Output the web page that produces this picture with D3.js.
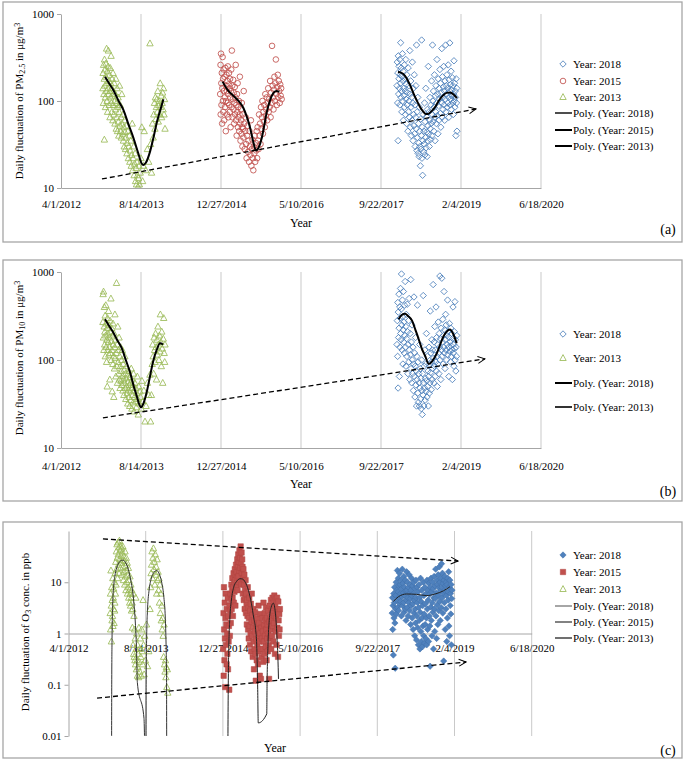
<!DOCTYPE html>
<html><head><meta charset="utf-8">
<script src="https://cdn.jsdelivr.net/npm/d3@7/dist/d3.min.js"></script>
<style>
body{margin:0;background:#fff;}
svg{display:block;}
svg text{font-family:"Liberation Serif","Times New Roman","DejaVu Serif",serif;}
</style></head><body>
<svg id="chart" width="685" height="762"></svg>
<script>
// ---------- axis ticks (days since 4/1/2012) ----------
const xTickValues = [0,500,1000,1500,2000,2500,3000];
const xTickLabels = ["4/1/2012","8/14/2013","12/27/2014","5/10/2016","9/22/2017","2/4/2019","6/18/2020"];
const pmTickValues = [10,100,1000];
const pmTickLabels = ["10","100","1000"];
const o3TickValues = [0.01,0.1,1,10];
const o3TickLabels = ["0.01","0.1","1","10"];

// ---------- (a) PM2.5 : [day, value] ----------
const pm25_2013 = [[262,140],[263,210],[265,95],[266,260],[268,120],[270,180],[271,36],[272,300],[274,150],[275,230],[277,110],[278,85],[280,190],[281,270],[283,130],[285,400],[286,160],[288,100],[290,220],[291,75],[293,140],[295,250],[296,380],[298,120],[300,170],[301,90],[303,200],[305,130],[306,65],[308,240],[310,110],[311,160],[313,330],[315,95],[317,140],[318,75],[320,180],[322,115],[324,60],[325,210],[327,90],[329,130],[331,70],[333,160],[335,100],[337,55],[339,120],[341,80],[343,180],[345,48],[347,95],[349,65],[351,140],[353,45],[355,85],[357,110],[359,58],[361,40],[363,75],[366,150],[368,52],[370,90],[372,45],[375,65],[377,38],[380,120],[382,55],[385,42],[387,70],[390,35],[393,50],[395,30],[398,60],[400,44],[403,28],[406,38],[409,52],[412,25],[415,33],[418,45],[421,22],[424,30],[427,40],[430,20],[433,27],[436,35],[439,18],[442,24],[445,55],[448,16],[451,22],[454,30],[457,14],[460,19],[463,25],[466,12],[469,17],[472,11],[475,20],[478,14],[481,10.3],[484,13],[487,18],[490,11],[495,15],[500,22],[505,50],[510,12],[515,18],[520,45],[530,16],[540,28],[548,20],[556,460],[560,32],[566,15],[572,55],[576,38],[580,70],[584,95],[587,48],[590,110],[593,62],[596,85],[599,105],[602,75],[605,130],[608,58],[611,90],[614,100],[617,70],[620,160],[623,85],[626,115],[629,65],[632,95],[635,125],[638,80],[641,140],[644,70],[647,105],[650,48]];
const pm25_2015 = [[995,120],[997,260],[998,70],[1000,350],[1002,160],[1003,90],[1005,210],[1007,55],[1008,140],[1010,320],[1012,100],[1013,180],[1015,75],[1017,230],[1018,130],[1020,60],[1022,190],[1024,110],[1025,85],[1027,240],[1029,150],[1030,45],[1032,100],[1034,200],[1036,130],[1037,70],[1039,170],[1041,95],[1043,250],[1044,120],[1046,65],[1048,155],[1050,210],[1051,90],[1053,140],[1055,75],[1057,180],[1058,110],[1060,50],[1062,130],[1064,230],[1066,85],[1068,380],[1070,150],[1072,65],[1074,105],[1076,175],[1078,80],[1080,125],[1082,55],[1084,95],[1086,145],[1088,70],[1090,110],[1092,260],[1094,60],[1096,90],[1098,40],[1100,120],[1102,75],[1104,160],[1106,50],[1108,85],[1110,65],[1112,100],[1114,45],[1116,70],[1118,190],[1120,55],[1122,35],[1124,80],[1126,60],[1128,42],[1130,95],[1132,50],[1134,30],[1136,70],[1138,48],[1140,38],[1142,130],[1145,55],[1148,28],[1151,45],[1154,65],[1157,32],[1160,22],[1163,40],[1166,52],[1169,26],[1172,35],[1175,20],[1178,45],[1181,30],[1184,24],[1187,60],[1190,18],[1193,28],[1196,36],[1199,22],[1202,16],[1205,30],[1208,25],[1211,40],[1214,20],[1217,33],[1220,27],[1223,45],[1226,22],[1229,50],[1232,35],[1235,28],[1238,70],[1241,40],[1244,55],[1247,32],[1250,85],[1253,48],[1256,65],[1259,100],[1262,42],[1265,75],[1268,58],[1271,90],[1274,50],[1277,120],[1280,68],[1283,80],[1286,110],[1289,60],[1292,95],[1295,140],[1298,75],[1301,105],[1304,85],[1307,170],[1310,65],[1313,125],[1316,95],[1319,430],[1322,150],[1325,110],[1328,80],[1331,135],[1334,190],[1337,100],[1340,160],[1343,300],[1346,120],[1349,90],[1352,145],[1355,200],[1358,110],[1361,170],[1364,130],[1367,95],[1370,155],[1373,115],[1376,140],[1379,105]];
const pm25_2018 = [[2100,150],[2102,280],[2104,95],[2105,210],[2107,35],[2108,330],[2110,120],[2112,180],[2113,250],[2115,140],[2117,300],[2118,90],[2120,200],[2122,160],[2123,468],[2125,110],[2127,240],[2128,130],[2130,75],[2132,190],[2134,350],[2135,100],[2137,170],[2139,220],[2140,60],[2142,140],[2144,115],[2146,260],[2147,85],[2149,180],[2151,130],[2153,70],[2155,300],[2156,105],[2158,155],[2160,55],[2162,200],[2164,90],[2166,125],[2168,45],[2170,240],[2172,75],[2174,150],[2176,100],[2178,65],[2180,380],[2182,120],[2184,50],[2186,170],[2188,85],[2190,40],[2192,110],[2194,60],[2196,280],[2198,95],[2200,35],[2202,140],[2204,70],[2206,52],[2208,200],[2210,42],[2212,90],[2214,30],[2216,65],[2218,150],[2220,48],[2222,440],[2224,27],[2226,75],[2228,38],[2230,110],[2232,25],[2234,55],[2236,33],[2238,23],[2240,85],[2242,45],[2244,30],[2246,18],[2248,62],[2250,28],[2252,40],[2254,502],[2256,22],[2258,50],[2260,14],[2262,35],[2264,70],[2266,26],[2268,45],[2270,32],[2272,95],[2274,24],[2276,58],[2278,38],[2280,140],[2282,29],[2284,66],[2286,44],[2288,23],[2290,80],[2292,35],[2294,52],[2296,250],[2298,42],[2300,75],[2302,30],[2304,60],[2306,110],[2308,48],[2310,36],[2312,90],[2314,55],[2316,170],[2318,40],[2320,70],[2322,440],[2324,100],[2326,58],[2328,130],[2330,45],[2332,85],[2334,200],[2336,65],[2338,35],[2340,115],[2342,75],[2344,150],[2346,55],[2348,95],[2350,300],[2352,68],[2354,120],[2356,42],[2358,180],[2360,88],[2362,60],[2364,140],[2366,105],[2368,230],[2370,72],[2372,160],[2374,50],[2376,125],[2378,95],[2380,400],[2382,65],[2384,190],[2386,110],[2388,80],[2390,145],[2392,250],[2394,90],[2396,130],[2398,60],[2400,170],[2402,105],[2404,440],[2406,75],[2408,150],[2410,120],[2412,200],[2414,85],[2416,140],[2418,95],[2420,260],[2422,110],[2424,65],[2426,175],[2428,130],[2430,465],[2432,90],[2434,155],[2436,105],[2438,220],[2440,80],[2442,135],[2444,115],[2446,185],[2448,95],[2450,150],[2452,70],[2454,120],[2456,290],[2458,100],[2460,160],[2462,85],[2464,130],[2466,110],[2468,40],[2470,180],[2472,95],[2474,140],[2475,45]];
const pm25Poly2013 = [[275,190],[300,160],[327,134],[360,100],[390,79],[420,55],[452,38],[483,25],[505,19],[515,18.4],[530,19.5],[556,26],[578,38],[598,56],[620,78],[640,105]];
const pm25Poly2015 = [[1010,167],[1040,135],[1077,115],[1110,100],[1140,83],[1160,67],[1181,50],[1200,35],[1219,27],[1235,29],[1254,37],[1270,52],[1285,73],[1305,100],[1327,123],[1345,130],[1365,128]];
const pm25Poly2018 = [[2106,215],[2125,212],[2150,195],[2181,153],[2205,120],[2225,100],[2245,85],[2263,76],[2280,71],[2294,71],[2315,76],[2338,85],[2360,100],[2388,116],[2410,124],[2431,125],[2455,118],[2475,108]];
const pm25Trend = [[256,12.7],[2594,81]];

// ---------- (b) PM10 ----------
const pm10_2013 = [[262,270],[263,560],[265,180],[266,600],[268,130],[270,240],[271,400],[273,150],[274,210],[276,320],[277,110],[279,190],[280,420],[282,140],[283,260],[285,95],[286,170],[288,230],[289,50],[291,300],[292,130],[294,200],[296,160],[297,360],[299,115],[300,250],[302,180],[304,140],[305,60],[307,280],[309,120],[310,210],[312,500],[314,100],[315,165],[317,230],[319,130],[320,44],[322,190],[324,90],[325,260],[327,150],[329,110],[330,38],[332,200],[334,80],[336,140],[337,330],[339,105],[341,170],[343,65],[345,120],[347,750],[349,85],[351,150],[353,55],[355,240],[357,95],[359,130],[361,70],[363,180],[365,60],[367,110],[369,48],[371,85],[373,140],[375,58],[377,75],[379,100],[381,52],[383,130],[385,66],[387,45],[389,90],[391,60],[393,40],[395,78],[397,55],[399,110],[401,48],[403,70],[405,36],[407,62],[409,85],[411,50],[413,42],[415,68],[417,32],[419,57],[421,46],[423,75],[425,38],[427,52],[429,30],[431,64],[433,44],[435,55],[437,35],[439,80],[441,48],[443,28],[445,60],[447,40],[449,52],[451,33],[453,70],[455,45],[457,26],[459,38],[462,55],[465,34],[468,48],[471,29],[474,42],[477,65],[480,36],[483,24],[486,50],[490,32],[494,44],[498,38],[502,28],[506,58],[512,34],[518,45],[525,20],[532,30],[540,55],[548,40],[556,68],[560,20],[565,40],[570,90],[573,150],[576,110],[579,70],[582,180],[585,130],[588,95],[591,200],[594,140],[597,60],[600,170],[603,115],[606,240],[609,150],[612,100],[615,190],[618,125],[621,330],[624,160],[627,85],[630,210],[633,135],[636,55],[639,175],[642,300],[645,120],[648,95],[650,150]];
const pm10_2018 = [[2100,150],[2102,280],[2104,110],[2105,450],[2107,48],[2108,350],[2110,180],[2112,560],[2113,230],[2115,65],[2117,400],[2118,140],[2120,300],[2122,650],[2123,200],[2125,170],[2127,380],[2128,950],[2130,250],[2132,130],[2134,480],[2135,310],[2137,90],[2139,220],[2140,600],[2142,160],[2144,270],[2146,120],[2147,420],[2149,190],[2151,780],[2153,140],[2155,240],[2156,85],[2158,330],[2160,175],[2162,110],[2164,430],[2166,210],[2168,70],[2170,150],[2172,280],[2174,95],[2176,500],[2178,130],[2180,60],[2182,200],[2184,115],[2186,820],[2188,80],[2190,160],[2192,55],[2194,250],[2196,100],[2198,70],[2200,140],[2202,45],[2204,90],[2206,520],[2208,65],[2210,120],[2212,38],[2214,85],[2216,180],[2218,52],[2220,75],[2222,30],[2224,110],[2226,60],[2228,420],[2230,42],[2232,95],[2234,33],[2236,70],[2238,55],[2240,30],[2242,150],[2244,48],[2246,80],[2248,36],[2250,62],[2252,28],[2254,100],[2256,45],[2258,24],[2260,70],[2262,40],[2264,540],[2266,55],[2268,30],[2270,85],[2272,48],[2274,130],[2276,35],[2278,62],[2280,90],[2282,44],[2284,200],[2286,58],[2288,38],[2290,110],[2292,50],[2294,75],[2296,30],[2298,65],[2300,140],[2302,42],[2304,90],[2306,55],[2308,360],[2310,72],[2312,120],[2314,46],[2316,95],[2318,170],[2320,60],[2322,130],[2324,80],[2326,720],[2328,105],[2330,55],[2332,160],[2334,85],[2336,240],[2338,65],[2340,130],[2342,95],[2344,400],[2346,75],[2348,180],[2350,110],[2352,50],[2354,150],[2356,90],[2358,270],[2360,120],[2362,70],[2364,200],[2366,140],[2368,900],[2370,100],[2372,175],[2374,60],[2376,230],[2378,130],[2380,850],[2382,110],[2384,160],[2386,290],[2388,90],[2390,190],[2392,140],[2394,600],[2396,120],[2398,220],[2400,80],[2402,170],[2404,330],[2406,130],[2408,250],[2410,100],[2412,190],[2414,150],[2416,480],[2418,115],[2420,210],[2422,140],[2424,65],[2426,180],[2428,260],[2430,125],[2432,160],[2434,95],[2436,230],[2438,145],[2440,110],[2442,200],[2444,130],[2446,60],[2448,175],[2450,400],[2452,120],[2454,150],[2456,85],[2458,210],[2460,135],[2462,460],[2464,100],[2466,170],[2468,75],[2470,140],[2472,110],[2474,190]];
const pm10Poly2013 = [[275,290],[300,245],[325,208],[350,170],[381,135],[405,100],[431,73],[455,50],[475,38],[490,31],[500,29],[515,32],[538,45],[556,65],[575,95],[598,130],[619,155],[638,150]];
const pm10Poly2018 = [[2110,290],[2130,325],[2150,335],[2170,315],[2194,280],[2215,220],[2233,178],[2255,135],[2275,112],[2299,90],[2320,97],[2348,118],[2370,150],[2390,185],[2410,210],[2431,222],[2450,200],[2473,155]];
const pm10Trend = [[262,22],[2650,103]];

// ---------- (c) O3 ----------
const o3_2013 = [[270,2.5],[272,6],[273,1.2],[275,17],[277,3.5],[278,0.7],[280,8],[282,1.8],[283,4.5],[285,2.2],[287,12],[288,1.4],[290,5],[292,3],[293,7.5],[295,1.6],[297,10],[299,2.8],[300,4],[302,15],[304,6],[306,25],[308,9],[310,40],[312,18],[314,55],[316,30],[318,12],[320,60],[322,35],[324,22],[326,48],[328,15],[330,65],[332,28],[334,42],[336,19],[338,52],[340,33],[342,24],[344,45],[346,14],[348,38],[350,27],[352,50],[354,20],[356,11],[358,32],[360,16],[362,26],[364,9],[366,40],[368,13],[370,21],[372,7],[374,30],[376,17],[378,10],[380,24],[382,6],[384,14],[386,8],[388,19],[390,5],[392,11],[394,7],[396,4],[398,13],[400,6],[402,3.5],[404,9],[406,5],[408,2.8],[410,7],[412,4],[414,1.3],[416,3],[418,0.6],[420,6],[422,0.4],[424,2.2],[426,0.35],[428,1.2],[430,0.3],[432,0.8],[434,0.25],[436,5],[438,0.5],[440,0.2],[442,1],[444,0.3],[446,0.15],[448,0.6],[450,0.22],[452,0.4],[454,0.14],[456,1.3],[458,0.28],[460,0.5],[462,0.18],[465,0.8],[468,0.35],[471,0.15],[474,1.2],[477,0.45],[480,0.25],[483,4.5],[486,0.6],[490,0.16],[494,0.9],[498,0.3],[505,1.5],[512,0.23],[520,0.45],[528,3],[532,8],[535,15],[538,22],[541,40],[544,12],[547,30],[550,46],[553,18],[556,25],[559,9],[562,35],[565,14],[568,20],[571,6],[574,28],[577,11],[580,16],[583,7],[586,12],[589,4],[592,9],[595,2.5],[598,6],[601,1.8],[604,3.5],[607,1.2],[610,2],[613,0.9],[616,0.35],[619,1.5],[622,0.25],[625,0.18],[628,0.3],[631,0.14],[634,0.22],[637,0.09],[640,0.2],[643,0.07]];
const o3_2015 = [[1002,0.5],[1004,2.5],[1005,0.15],[1007,8],[1008,1.2],[1010,0.3],[1012,4],[1013,0.8],[1015,0.09],[1017,2],[1018,6],[1020,0.6],[1022,1.5],[1024,0.25],[1025,3],[1027,1],[1029,0.4],[1031,5],[1033,0.2],[1035,2.2],[1037,0.7],[1039,1.4],[1041,0.08],[1043,3.5],[1045,0.9],[1047,2.8],[1049,6],[1051,1.6],[1053,4.5],[1055,9],[1057,3],[1059,7],[1061,12],[1063,5],[1065,2.2],[1067,8],[1069,15],[1071,4],[1073,10],[1075,6.5],[1077,18],[1079,11],[1081,3.5],[1083,14],[1085,22],[1087,8],[1089,16],[1091,12],[1093,28],[1095,7],[1097,20],[1099,35],[1101,13],[1103,25],[1105,17],[1107,42],[1109,10],[1111,30],[1113,19],[1115,50],[1117,24],[1119,9],[1121,38],[1123,15],[1125,28],[1127,20],[1129,6],[1131,12],[1133,18],[1135,4.5],[1137,9],[1139,14],[1141,3],[1143,7],[1145,5],[1147,11],[1149,2.5],[1151,6],[1153,3.8],[1155,1.5],[1157,4.5],[1159,2.2],[1161,8],[1163,1.2],[1165,3.2],[1167,0.8],[1169,2],[1171,5],[1173,1.4],[1175,0.6],[1177,2.8],[1179,1],[1181,3.8],[1183,0.45],[1185,1.7],[1187,6],[1189,0.9],[1191,2.3],[1193,0.35],[1195,1.3],[1197,3],[1199,0.7],[1201,0.2],[1203,1.8],[1205,0.5],[1207,1.1],[1209,2.6],[1211,0.4],[1213,0.12],[1215,1.5],[1217,0.8],[1219,0.3],[1221,2],[1223,0.6],[1225,1.2],[1227,0.25],[1229,0.9],[1231,3.5],[1233,0.45],[1235,1.6],[1237,0.7],[1239,0.15],[1241,1],[1243,2.4],[1245,0.5],[1247,0.13],[1249,1.3],[1251,0.35],[1253,0.8],[1255,2],[1257,0.5],[1259,1.1],[1261,0.28],[1263,4],[1265,0.7],[1267,1.5],[1269,0.4],[1271,2.5],[1273,0.9],[1275,1.8],[1277,0.55],[1279,3.2],[1281,1.2],[1283,0.3],[1285,2],[1287,0.8],[1289,1.5],[1291,0.45],[1293,2.8],[1295,1],[1297,0.6],[1299,0.13],[1301,1.7],[1303,3.5],[1305,0.8],[1307,2.2],[1309,1.2],[1311,4.5],[1313,0.5],[1315,1.8],[1317,3],[1319,0.9],[1321,5],[1323,1.4],[1325,2.5],[1327,0.7],[1329,4],[1331,1.6],[1333,5.5],[1335,2.2],[1337,0.4],[1339,3.5],[1341,1.1],[1343,4.8],[1345,2],[1347,0.6],[1349,3],[1351,5],[1353,1.3],[1355,2.6],[1357,0.35],[1359,4.2],[1361,1.8],[1363,0.9],[1365,2.4],[1367,1.2],[1369,3]];
const o3_2018 = [[2096,2.5],[2098,5],[2100,1.2],[2102,3.5],[2104,0.38],[2106,6],[2108,2],[2110,4],[2112,8],[2114,1.6],[2116,0.21],[2118,3],[2120,5.5],[2122,10],[2124,2.4],[2126,7],[2128,4.5],[2130,17],[2132,3.2],[2134,6.5],[2136,12],[2138,2.8],[2140,8.5],[2142,5],[2144,15],[2146,3.8],[2148,9],[2150,6],[2152,4.2],[2154,11],[2156,2.2],[2158,7.5],[2160,5.2],[2162,18],[2164,3.5],[2166,9.5],[2168,6.2],[2170,4],[2172,13],[2174,2.6],[2176,8],[2178,5.5],[2180,3],[2182,11],[2184,6.8],[2186,1.8],[2188,4.5],[2190,16],[2192,7],[2194,3.2],[2196,10],[2198,5],[2200,2.2],[2202,8],[2204,4],[2206,14],[2208,6],[2210,2.8],[2212,9],[2214,4.8],[2216,1.5],[2218,7],[2220,3.5],[2222,12],[2224,5.5],[2226,2],[2228,8.5],[2230,3.8],[2232,1.2],[2234,6],[2236,10],[2238,2.5],[2240,4.5],[2242,0.9],[2244,7.5],[2246,3],[2248,1.6],[2250,11],[2252,5],[2254,0.75],[2256,2.2],[2258,8],[2260,4],[2262,1.3],[2264,6.5],[2266,0.6],[2268,3.2],[2270,9],[2272,1.8],[2274,5],[2276,0.5],[2278,2.6],[2280,12],[2282,1.1],[2284,4.2],[2286,0.7],[2288,7],[2290,2],[2292,0.55],[2294,3.5],[2296,1.4],[2298,10],[2300,0.9],[2302,5.5],[2304,2.4],[2306,0.65],[2308,8],[2310,1.5],[2312,3.8],[2314,0.8],[2316,6],[2318,2],[2320,0.6],[2322,11],[2324,3],[2326,1.2],[2328,7],[2330,4.5],[2332,0.7],[2334,9.5],[2336,2.2],[2338,5.8],[2340,1.4],[2342,0.23],[2344,8],[2346,3.3],[2348,12],[2350,1.8],[2352,6.5],[2354,0.9],[2356,4],[2358,10],[2360,2.6],[2362,7.5],[2364,0.5],[2366,5],[2368,13],[2370,3],[2372,1.1],[2374,8.5],[2376,4.8],[2378,18],[2380,2.2],[2382,6.2],[2384,0.8],[2386,11],[2388,3.6],[2390,9],[2392,1.5],[2394,14],[2396,5.5],[2398,2.8],[2400,7.8],[2402,20],[2404,4.2],[2406,10],[2408,1.8],[2410,6.8],[2412,12],[2414,3.2],[2416,23],[2418,8],[2420,5],[2422,15],[2424,2.5],[2426,9.5],[2428,6],[2430,0.29],[2432,11],[2434,4],[2436,7],[2438,13],[2440,1.2],[2442,8.5],[2444,3],[2446,10],[2448,5.5],[2450,0.7],[2452,9],[2454,2],[2456,12],[2458,6.5],[2460,4.5],[2462,16],[2464,1.4],[2466,8],[2468,0.9],[2470,11],[2472,3.5],[2474,6],[2476,2.4],[2478,9],[2480,0.6],[2482,4.8],[2484,7]];
const o3Poly2013 = [[279,0.004],[280,0.1],[282,0.8],[286,3.5],[292,8],[300,13],[312,19],[330,25],[351,27],[370,24],[387,18],[403,11],[416,6.5],[425,3.5],[433,1.6],[440,0.55],[446,0.11],[489,0.022],[496,0.004],[502,0.004],[503,0.1],[506,0.8],[512,3],[522,7],[535,11.5],[550,15],[571,17],[590,14],[605,9.5],[618,5],[627,2],[632,0.6],[635,0.15],[636,0.004]];
const o3Poly2015 = [[1032,0.004],[1034,0.05],[1038,0.5],[1045,2],[1055,4.5],[1070,8],[1090,10.5],[1110,11.7],[1125,11.6],[1145,10],[1165,7],[1185,3.8],[1200,2],[1212,1.2],[1219,0.6],[1225,0.1],[1229,0.018],[1284,0.027],[1286,0.1],[1292,0.6],[1300,1.8],[1312,3.2],[1327,3.9],[1340,2.5],[1350,0.9],[1356,0.35],[1360,0.13]];
const o3Poly2018 = [[2104,4.2],[2136,5.2],[2190,5.9],[2255,5.8],[2320,5.5],[2374,5.9],[2428,6.8],[2471,8.2]];
const o3TrendTop = [[223,70],[2523,26]];
const o3TrendBottom = [[185,0.055],[2575,0.278]];

// ---------- legends ----------
const legendA = ["Year: 2018","Year: 2015","Year: 2013","Poly. (Year: 2018)","Poly. (Year: 2015)","Poly. (Year: 2013)"];
const legendB = ["Year: 2018","Year: 2013","Poly. (Year: 2018)","Poly. (Year: 2013)"];
const legendC = ["Year: 2018","Year: 2015","Year: 2013","Poly. (Year: 2018)","Poly. (Year: 2015)","Poly. (Year: 2013)"];

// ---------- drawing ----------
const FONT = "'Liberation Serif','Times New Roman','DejaVu Serif',serif";
const BLUE="#4a7ebb", RED="#c0504d", GREEN="#9bbb59";
const svg = d3.select("#chart");
const defs = svg.append("defs");
defs.append("marker").attr("id","arrow").attr("viewBox","0 0 10 10").attr("refX",9).attr("refY",5)
  .attr("markerWidth",9).attr("markerHeight",9).attr("markerUnits","userSpaceOnUse").attr("orient","auto")
  .append("path").attr("d","M1,1.2L9,5L1,8.8").attr("fill","none").attr("stroke","#000").attr("stroke-width",1.1);

const shapes = {
  diamond: "M0,-3.2L3.2,0L0,3.2L-3.2,0Z",
  triangle: "M0,-3.4L3.2,2.5L-3.2,2.5Z",
  square: "M-2.7,-2.7H2.7V2.7H-2.7Z",
  dfill: "M0,-3.2L3.2,0L0,3.2L-3.2,0Z"
};
function drawMarker(sel, kind){
  if(kind==="circle") return sel.append("circle").attr("r",2.8).attr("fill","none").attr("stroke",RED).attr("stroke-width",0.85);
  if(kind==="diamond") return sel.append("path").attr("d",shapes.diamond).attr("fill","none").attr("stroke",BLUE).attr("stroke-width",0.85);
  if(kind==="triangle") return sel.append("path").attr("d",shapes.triangle).attr("fill","none").attr("stroke",GREEN).attr("stroke-width",0.85);
  if(kind==="square") return sel.append("path").attr("d",shapes.square).attr("fill",RED).attr("stroke","#b04440").attr("stroke-width",0.5);
  if(kind==="dfill") return sel.append("path").attr("d",shapes.dfill).attr("fill","#4f81bd").attr("stroke","#3f6fa8").attr("stroke-width",0.5);
}
function txt(sel){ return sel.append("text").attr("font-family",FONT).attr("fill","#000"); }

function panel(cfg, idx){
  const g = svg.append("g");
  g.append("rect").attr("x",cfg.box[0]).attr("y",cfg.box[1]).attr("width",cfg.box[2]).attr("height",cfg.box[3])
    .attr("fill","#fff").attr("stroke","#a6a6a6").attr("stroke-width",1.3);
  const x = d3.scaleLinear().domain([0,3000]).range([cfg.left,cfg.right]);
  const y = d3.scaleLog().domain(cfg.yDomain).range([cfg.bottom,cfg.top]);
  g.selectAll(".vg").data(xTickValues.slice(1)).join("line")
    .attr("x1",d=>x(d)).attr("x2",d=>x(d)).attr("y1",cfg.top).attr("y2",cfg.bottom)
    .attr("stroke","#c9c9c9").attr("stroke-width",1);
  const ya = g.append("g").attr("transform",`translate(${cfg.left},0)`)
    .call(d3.axisLeft(y).tickValues(cfg.yTicks).tickFormat((d,i)=>cfg.yLabels[i]).tickSize(4).tickSizeOuter(0).tickPadding(3));
  ya.attr("font-family",FONT).attr("font-size",null);
  ya.select(".domain").attr("stroke","#a6a6a6");
  ya.selectAll(".tick line").attr("stroke","#a6a6a6");
  ya.selectAll("text").attr("font-size","11px").attr("fill","#000").attr("font-family",FONT);
  const xa = g.append("g").attr("transform",`translate(0,${y(cfg.xAxisAt)})`)
    .call(d3.axisBottom(x).tickValues(xTickValues).tickFormat((d,i)=>xTickLabels[i]).tickSize(0).tickPadding(cfg.xPad));
  xa.attr("font-family",FONT).attr("font-size",null);
  xa.select(".domain").attr("stroke","#a6a6a6");
  xa.selectAll("text").attr("font-size","11px").attr("fill","#000").attr("font-family",FONT);
  const cid = "clip"+idx;
  defs.append("clipPath").attr("id",cid).append("rect")
    .attr("x",cfg.left-4).attr("y",cfg.top-4).attr("width",cfg.right-cfg.left+8).attr("height",cfg.bottom-cfg.top+4);
  const plot = g.append("g").attr("clip-path",`url(#${cid})`);
  cfg.series.forEach(s=>{
    const pts = plot.append("g").selectAll("g").data(s.data).join("g")
      .attr("transform",d=>`translate(${x(d[0])},${y(d[1])})`);
    pts.each(function(){ drawMarker(d3.select(this), s.kind); });
  });
  const line = d3.line().x(d=>x(d[0])).y(d=>y(d[1])).curve(d3.curveMonotoneX);
  cfg.curves.forEach(c=>{
    plot.append("path").datum(c.data).attr("d",line).attr("fill","none")
      .attr("stroke",c.color).attr("stroke-width",c.width);
  });
  const tl = d3.line().x(d=>x(d[0])).y(d=>y(d[1]));
  cfg.trends.forEach(t=>{
    g.append("path").datum(t).attr("d",tl).attr("fill","none").attr("stroke","#000")
      .attr("stroke-width",1.3).attr("stroke-dasharray","5,3").attr("marker-end","url(#arrow)");
  });
  txt(g).attr("x",cfg.yearX).attr("y",cfg.yearY).attr("text-anchor","middle").attr("font-size","12px").text("Year");
  const yt = txt(g).attr("transform",`translate(${cfg.yTitleX},${cfg.yTitleY}) rotate(-90)`)
    .attr("text-anchor","middle").attr("font-size","11px");
  cfg.yTitle.forEach(p=>{
    const ts = yt.append("tspan").text(p.t);
    if(p.sub){ ts.attr("baseline-shift","-25%").attr("font-size","8px"); }
    if(p.sup){ ts.attr("baseline-shift","35%").attr("font-size","8px"); }
  });
  txt(g).attr("x",cfg.letterX).attr("y",cfg.letterY).attr("text-anchor","middle").attr("font-size","14px").text(cfg.letter);
  cfg.legend.forEach((it,i)=>{
    const ly = cfg.legendY[i];
    const lg = g.append("g");
    if(it.kind==="line"){
      lg.append("line").attr("x1",555).attr("x2",572).attr("y1",ly).attr("y2",ly).attr("stroke",it.color).attr("stroke-width",it.width);
    } else {
      const m = lg.append("g").attr("transform",`translate(563,${ly})`);
      drawMarker(m, it.kind);
    }
    txt(lg).attr("x",573).attr("y",ly+3.8).attr("font-size","11px").text(it.label);
  });
}

panel({
  box:[3,2,679,240], left:61, right:541, top:14, bottom:188, yDomain:[10,1000],
  yTicks:pmTickValues, yLabels:pmTickLabels, xAxisAt:10, xPad:12,
  series:[{data:pm25_2013,kind:"triangle"},{data:pm25_2015,kind:"circle"},{data:pm25_2018,kind:"diamond"}],
  curves:[{data:pm25Poly2013,color:"#000",width:2},{data:pm25Poly2015,color:"#000",width:2},{data:pm25Poly2018,color:"#000",width:2}],
  trends:[pm25Trend],
  yearX:301, yearY:227, yTitleX:23, yTitleY:101,
  yTitle:[{t:"Daily fluctuation of PM"},{t:"2.5",sub:true},{t:" in μg/m"},{t:"3",sup:true}],
  letter:"(a)", letterX:668, letterY:234,
  legend:[{kind:"diamond",label:legendA[0]},{kind:"circle",label:legendA[1]},{kind:"triangle",label:legendA[2]},
    {kind:"line",color:"#4d4d4d",width:2,label:legendA[3]},{kind:"line",color:"#000",width:2,label:legendA[4]},{kind:"line",color:"#000",width:2,label:legendA[5]}],
  legendY:[64,81,97,113,130,146]
},0);

panel({
  box:[3,260,679,241], left:61, right:541, top:272, bottom:448, yDomain:[10,1000],
  yTicks:pmTickValues, yLabels:pmTickLabels, xAxisAt:10, xPad:14,
  series:[{data:pm10_2013,kind:"triangle"},{data:pm10_2018,kind:"diamond"}],
  curves:[{data:pm10Poly2013,color:"#000",width:2},{data:pm10Poly2018,color:"#000",width:2}],
  trends:[pm10Trend],
  yearX:301, yearY:488, yTitleX:23, yTitleY:358,
  yTitle:[{t:"Daily fluctuation of PM"},{t:"10",sub:true},{t:" in μg/m"},{t:"3",sup:true}],
  letter:"(b)", letterX:668, letterY:496,
  legend:[{kind:"diamond",label:legendB[0]},{kind:"triangle",label:legendB[1]},
    {kind:"line",color:"#000",width:2,label:legendB[2]},{kind:"line",color:"#333",width:2,label:legendB[3]}],
  legendY:[334,358,383,407]
},1);

panel({
  box:[3,522,679,236], left:68.5, right:531.7, top:531, bottom:736, yDomain:[0.01,100],
  yTicks:o3TickValues, yLabels:o3TickLabels, xAxisAt:1, xPad:10.5,
  series:[{data:o3_2013,kind:"triangle"},{data:o3_2015,kind:"square"},{data:o3_2018,kind:"dfill"}],
  curves:[{data:o3Poly2013,color:"#333",width:1},{data:o3Poly2015,color:"#222",width:1},{data:o3Poly2018,color:"#222",width:1}],
  trends:[o3TrendTop,o3TrendBottom],
  yearX:275, yearY:752, yTitleX:29, yTitleY:632,
  yTitle:[{t:"Daily fluctuation of O"},{t:"3",sub:true},{t:" conc. in ppb"}],
  letter:"(c)", letterX:668, letterY:755,
  legend:[{kind:"dfill",label:legendC[0]},{kind:"square",label:legendC[1]},{kind:"triangle",label:legendC[2]},
    {kind:"line",color:"#a6a6a6",width:2,label:legendC[3]},{kind:"line",color:"#595959",width:1.5,label:legendC[4]},{kind:"line",color:"#404040",width:1.5,label:legendC[5]}],
  legendY:[555,572,589,606,622,638]
},2);
</script>
</body></html>
